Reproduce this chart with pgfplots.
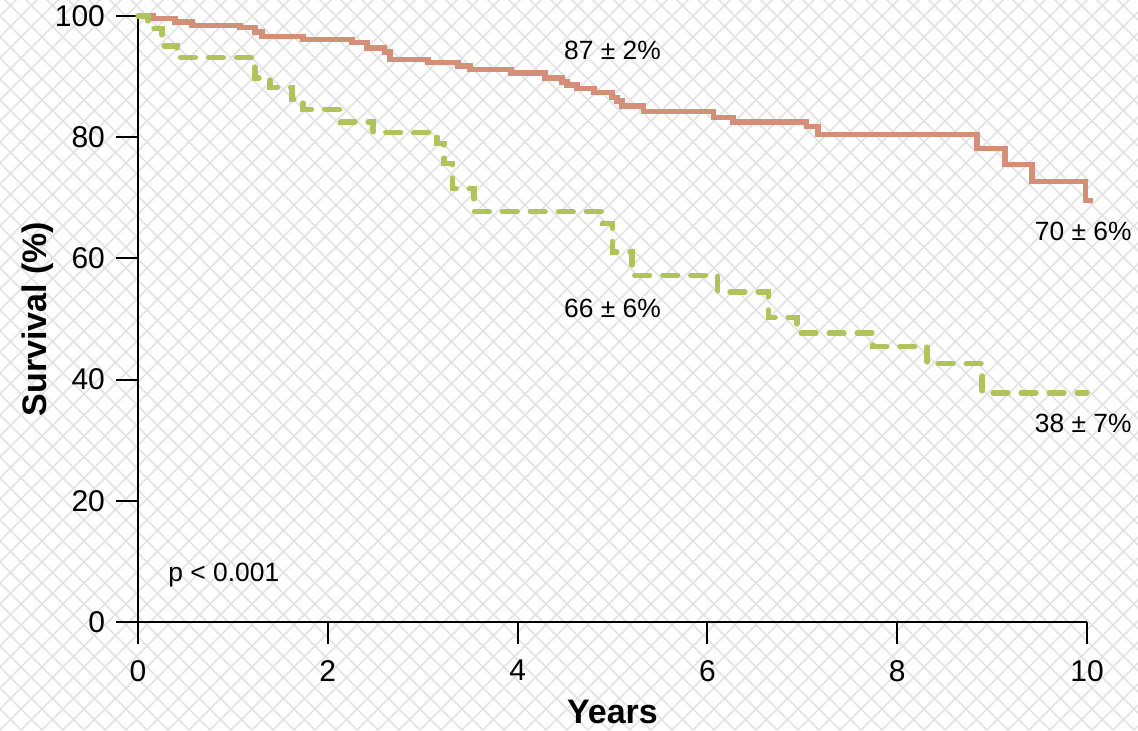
\documentclass[border=0pt]{standalone}
\usepackage{pgfplots}
\pgfplotsset{compat=1.18}
\usepackage{fontspec}
\setmainfont{Liberation Sans}
\definecolor{redline}{HTML}{D38F78}
\definecolor{greenline}{HTML}{B0C45C}
\definecolor{hatch}{HTML}{E2E2E2}
\begin{document}
\begin{tikzpicture}
\begin{scope}
\clip (0pt,0pt) rectangle (569pt,365pt);
\foreach \k in {-36,...,90} {
  \draw[hatch, line width=0.8pt] (\k*10.5pt,0pt) -- ++(370pt,370pt);
  \draw[hatch, line width=0.8pt] (\k*10.5pt,0pt) -- ++(-370pt,370pt);
}
\end{scope}
\begin{axis}[
  at={(69pt,54pt)}, anchor=south west,
  scale only axis, width=474.5pt, height=303pt,
  xmin=0, xmax=10, ymin=0, ymax=100,
  axis lines*=left,
  axis line style={line width=1pt, black},
  tick align=outside,
  major tick length=11pt,
  tick style={line width=1pt, black},
  xtick={0,2,4,6,8,10}, ytick={0,20,40,60,80,100},
  /pgf/number format/assume math mode=true,
  tick label style={font=\fontsize{15}{17}\selectfont},
  xticklabel style={yshift=-4.5pt},
  yticklabel style={xshift=-2pt},
  xlabel={Years}, ylabel={Survival (\%)},
  xlabel style={font=\bfseries\fontsize{17}{20}\selectfont, at={(axis description cs:0.5,-0.1485)}, anchor=center},
  ylabel style={font=\bfseries\fontsize{17}{20}\selectfont, at={(axis description cs:-0.1054,0.5)}, anchor=center},
  clip=false,
]
\addplot[const plot, redline, line width=2.6pt] coordinates {
(0,100) (0.158,99.55) (0.39,99.0) (0.569,98.47) (1.075,98.07) (1.233,97.36)
(1.307,96.65) (1.739,96.09) (2.255,95.59) (2.413,94.72) (2.60,94.06) (2.655,92.82)
(3.056,92.29) (3.372,91.75) (3.498,91.17) (3.93,90.59) (4.289,89.77) (4.468,89.11)
(4.52,88.6) (4.626,88.0) (4.805,87.4) (4.995,86.6) (5.047,85.97) (5.10,85.15)
(5.33,84.3) (6.06,83.3) (6.27,82.5) (7.04,81.8) (7.165,80.4) (8.84,78.1)
(9.136,75.5) (9.42,72.7) (9.98,69.6) (10.06,69.6)
};
\addplot[const plot, greenline, line width=2.6pt, line cap=round, dash pattern=on 7.5pt off 6.5pt] coordinates {
(0,100) (0.105,98.0) (0.253,95.05) (0.411,93.15) (1.233,89.77) (1.391,88.2)
(1.623,86.3) (1.739,84.57) (2.13,82.5) (2.476,80.8) (3.15,78.9) (3.224,75.6)
(3.31,71.5) (3.54,67.7) (4.90,65.8) (5.0,61.05) (5.205,57.2) (6.11,54.45)
(6.64,50.2) (6.944,47.7) (7.745,45.5) (8.314,42.6) (8.894,37.8) (10.0,37.8)
};
\node[font=\fontsize{13.2}{15}\selectfont] at (axis cs:5.0,94.4) {87 ± 2\%};
\node[font=\fontsize{13.2}{15}\selectfont] at (axis cs:5.0,51.8) {66 ± 6\%};
\node[font=\fontsize{13.2}{15}\selectfont] at (axis cs:9.96,64.4) {70 ± 6\%};
\node[font=\fontsize{13.2}{15}\selectfont] at (axis cs:9.96,32.8) {38 ± 7\%};
\node[font=\fontsize{13.2}{15}\selectfont, anchor=west, inner sep=0pt] at (axis cs:0.316,7.76) {p < 0.001};
\end{axis}
\pgfresetboundingbox
\path[use as bounding box] (0pt,0pt) rectangle (569pt,365pt);
\end{tikzpicture}
\end{document}
